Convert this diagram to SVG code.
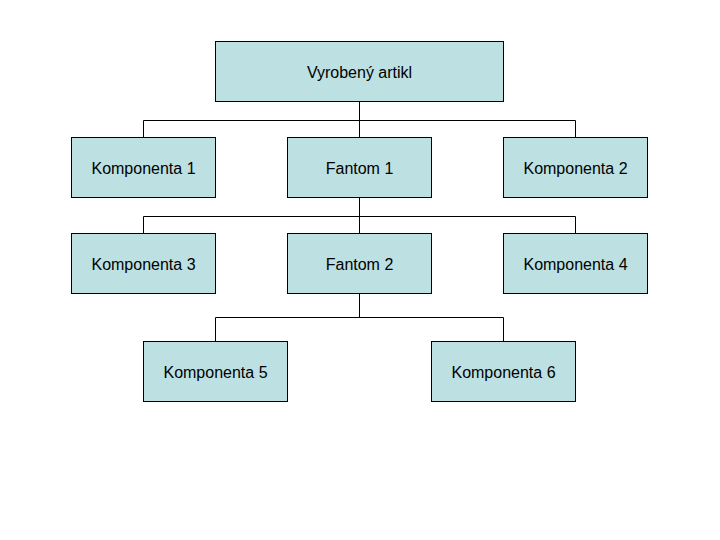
<svg xmlns="http://www.w3.org/2000/svg" width="720" height="540" viewBox="0 0 720 540">
<style>
.n rect{fill:#BDE0E2;stroke:#000;stroke-width:1}
.n text{font-family:"Liberation Sans",Arial,sans-serif;font-size:16px;text-anchor:middle;dominant-baseline:central;fill:#000}
#c path{fill:none;stroke:#000;stroke-width:1}
</style>
<rect width="720" height="540" fill="#fff"/>
<g id="c">
<path d="M359.5 101V137M143.5 137V120.5H575.5V137"/>
<path d="M359.5 197V233M143.5 233V216.5H575.5V233"/>
<path d="M359.5 293V317.5M215.5 341V317.5H503.5V341"/>
</g>
<g id="root" class="n"><rect x="215.5" y="41.5" width="288" height="60"/><text x="359.5" y="72">Vyrobený artikl</text></g>
<g id="k1" class="n"><rect x="71.5" y="137.5" width="144" height="60"/><text x="143.5" y="168">Komponenta 1</text></g>
<g id="f1" class="n"><rect x="287.5" y="137.5" width="144" height="60"/><text x="359.5" y="168">Fantom 1</text></g>
<g id="k2" class="n"><rect x="503.5" y="137.5" width="144" height="60"/><text x="575.5" y="168">Komponenta 2</text></g>
<g id="k3" class="n"><rect x="71.5" y="233.5" width="144" height="60"/><text x="143.5" y="264">Komponenta 3</text></g>
<g id="f2" class="n"><rect x="287.5" y="233.5" width="144" height="60"/><text x="359.5" y="264">Fantom 2</text></g>
<g id="k4" class="n"><rect x="503.5" y="233.5" width="144" height="60"/><text x="575.5" y="264">Komponenta 4</text></g>
<g id="k5" class="n"><rect x="143.5" y="341.5" width="144" height="60"/><text x="215.5" y="372">Komponenta 5</text></g>
<g id="k6" class="n"><rect x="431.5" y="341.5" width="144" height="60"/><text x="503.5" y="372">Komponenta 6</text></g>
</svg>
